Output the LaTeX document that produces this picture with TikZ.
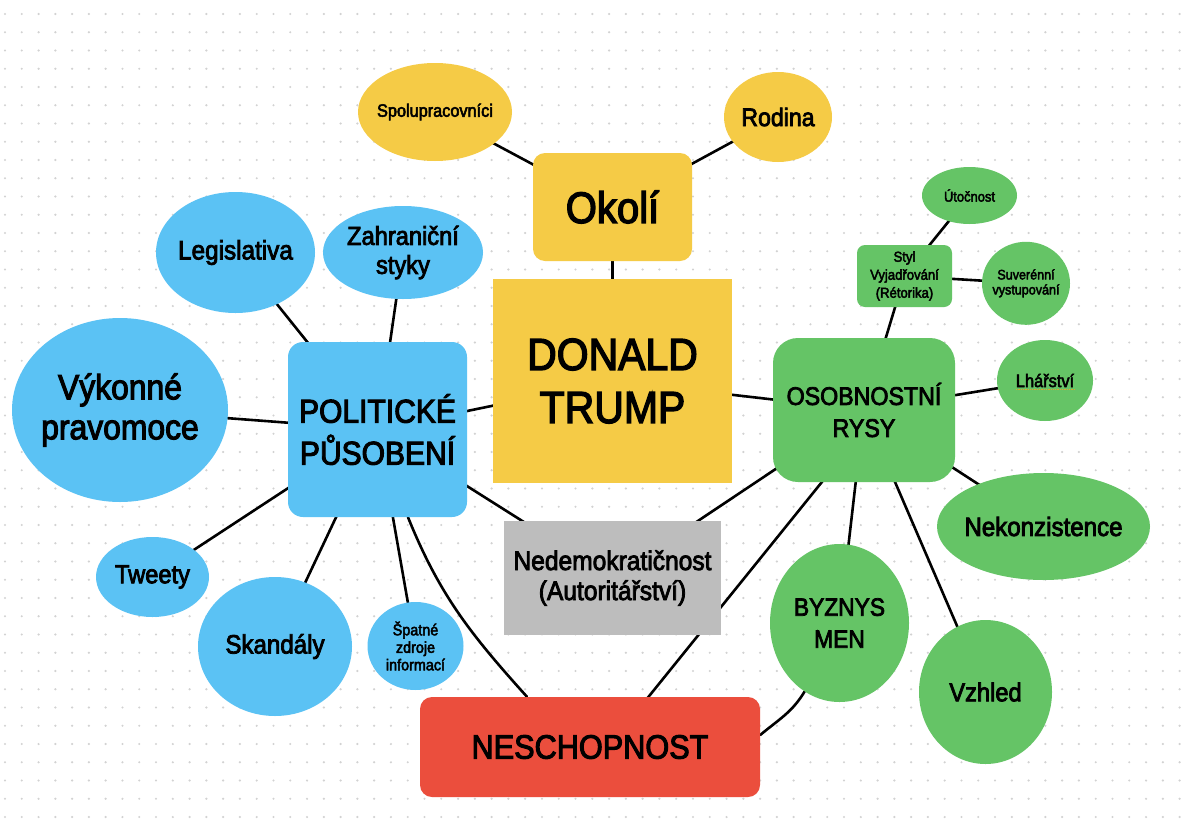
\documentclass[tikz,border=0pt]{standalone}
\usepackage{fontspec}
\setmainfont{Liberation Sans}[FakeStretch=0.91,FakeBold=3]
\usetikzlibrary{shapes.geometric}
\usetikzlibrary{backgrounds,calc}

\definecolor{zluta}{HTML}{F5CB46}
\definecolor{modra}{HTML}{5BC2F4}
\definecolor{zelena}{HTML}{65C466}
\definecolor{cervena}{HTML}{EB4E3D}
\definecolor{seda}{HTML}{BDBDBD}
\definecolor{tecka}{HTML}{D2D2D2}
\definecolor{podtrh}{HTML}{D9A62E}

\newcommand{\fs}[2]{\fontsize{#1}{#2}\selectfont}

\begin{document}
\begin{tikzpicture}[x=1pt, y=-1pt,
	box/.style={rectangle, inner sep=0pt, align=center},
	bubble/.style={ellipse, inner sep=0pt},
	txt/.style={inner sep=0pt, align=center},
	link/.style={line width=2.6pt, line cap=round}]
	
	\useasboundingbox (0,0) rectangle (1188,830);
	
	% dotted paper
	\begin{scope}[on background layer]
		\fill[white] (0,0) rectangle (1188,830);
		\foreach \i in {0,...,70}
			\foreach \j in {0,...,44}
				\fill[tecka] (5+16.78*\i, 14+18.25*\j) circle (1.2pt);
	\end{scope}
	
	% middle
	\node[box, fill=zluta, minimum width=239pt, minimum height=204pt, font=\fs{45}{53}] (trump) at (612.5,381) {DONALD\\TRUMP};
	\node[box, fill=zluta, rounded corners=12pt, minimum width=159pt, minimum height=108pt, font=\fs{44}{50}] (okoli) at (612.5,207) {Okolí};
	\node[bubble, fill=zluta, minimum width=154pt, minimum height=98pt, label={[txt, name=spolu-t, font=\fs{17.9}{20}]center:Spolupracovníci}] (spolu) at (435,112) {};
	\node[bubble, fill=zluta, minimum width=108pt, minimum height=90pt, label={[txt, name=rodina-t, font=\fs{25.4}{28}]center:Rodina}] (rodina) at (778,117) {};
	
	% politics
	\node[box, fill=modra, rounded corners=15pt, minimum width=179pt, minimum height=175pt, font=\fs{33}{42}] (polit) at (377.5,429.5) {POLITICKÉ\\PŮSOBENÍ};
	\node[bubble, fill=modra, minimum width=159pt, minimum height=121pt, label={[txt, name=legis-t, font=\fs{26.7}{30}]center:Legislativa}] (legis) at (235.5,252.5) {};
	\node[bubble, fill=modra, minimum width=160pt, minimum height=93pt, label={[txt, name=zahr-t, font=\fs{26}{29}]center:Zahraniční\\styky}] (zahr) at (403,252.5) {};
	\node[bubble, fill=modra, minimum width=216pt, minimum height=184pt, label={[txt, name=vykon-t, font=\fs{35}{40}]center:Výkonné\\pravomoce}] (vykon) at (120,410) {};
	\node[bubble, fill=modra, minimum width=113pt, minimum height=80pt, label={[txt, name=tweety-t, font=\fs{26}{29}]center:Tweety}] (tweety) at (152.5,577) {};
	\node[bubble, fill=modra, minimum width=154pt, minimum height=139pt, label={[txt, name=skand-t, font=\fs{26.5}{29}]center:Skandály}] (skand) at (275,646.5) {};
	\node[bubble, fill=modra, minimum width=96pt, minimum height=88pt, label={[txt, name=spatne-t, font=\fs{15.8}{17.5}]center:Špatné\\zdroje\\informací}] (spatne) at (415.5,646) {};
	
	% personality
	\node[box, fill=zelena, rounded corners=25pt, minimum width=182pt, minimum height=144pt, font=\fs{25.5}{32}] (osob) at (864,410) {OSOBNOSTNÍ\\RYSY};
	\node[box, fill=zelena, rounded corners=8pt, minimum width=95pt, minimum height=62pt, font=\fs{14.4}{18}] (styl) at (904.5,276) {Styl\\Vyjadřování\\(Rétorika)};
	\node[bubble, fill=zelena, minimum width=95pt, minimum height=57pt, label={[txt, name=utoc-t, font=\fs{14.2}{16}]center:Útočnost}] (utoc) at (969.5,195.5) {};
	\node[bubble, fill=zelena, minimum width=88pt, minimum height=83pt, label={[txt, name=suver-t, font=\fs{13.8}{15}]center:Suverénní\\vystupování}] (suver) at (1026,283.3) {};
	\node[bubble, fill=zelena, minimum width=96pt, minimum height=81pt, label={[txt, name=lhar-t, font=\fs{18}{20}]center:Lhářství}] (lhar) at (1045,380.5) {};
	\node[bubble, fill=zelena, minimum width=213pt, minimum height=107pt, label={[txt, name=nekonz-t, font=\fs{26.5}{29}]center:Nekonzistence}] (nekonz) at (1043.5,526.5) {};
	\node[bubble, fill=zelena, minimum width=139pt, minimum height=158pt, label={[txt, name=byznys-t, font=\fs{25}{32}]center:BYZNYS\\MEN}] (byznys) at (839.5,623) {};
	\node[bubble, fill=zelena, minimum width=133pt, minimum height=144pt, label={[txt, name=vzhled-t, font=\fs{26}{29}]center:Vzhled}] (vzhled) at (985.5,692) {};
	
	% bottom
	\node[box, fill=seda, minimum width=217pt, minimum height=114pt, font=\fs{27}{30}] (nedem) at (612.5,578) {Nedemokratičnost\\(Autoritářství)};
	\node[box, fill=cervena, rounded corners=12pt, minimum width=340pt, minimum height=100pt, font=\fs{33.7}{38}] (nesch) at (590,747) {NESCHOPNOST};
	
	% squiggle under Lhářství
	\draw[podtrh, densely dotted, line width=1.3pt] ($(lhar.center)+(-29,9)$) -- ($(lhar.center)+(29,9)$);
	
	% connectors
	\begin{scope}[on background layer]
		\draw[link] (okoli.center) -- (spolu.center);
		\draw[link] (okoli.center) -- (rodina.center);
		\draw[link] (okoli.center) -- (trump.center);
		\draw[link] (trump.center) -- (polit.center);
		\draw[link] (trump.center) -- (osob.center);
		
		\draw[link] (polit.center) -- (legis.center);
		\draw[link] (polit.center) -- (zahr.center);
		\draw[link] (polit.center) -- (vykon.center);
		\draw[link] (polit.center) -- (tweety.center);
		\draw[link] (polit.center) -- (skand.center);
		\draw[link] (polit.center) -- (spatne.center);
		\draw[link] (polit.center) -- (nedem.center);
		\draw[link] ($(polit.south)+(30.5,0)$) to[out=-68, in=132] ($(nesch.north)+(-63,0)$);
		
		\draw[link] (osob.center) -- (styl.center);
		\draw[link] (styl.center) -- (utoc.center);
		\draw[link] (styl.center) -- (suver.center);
		\draw[link] (osob.center) -- (lhar.center);
		\draw[link] (osob.center) -- (nekonz.center);
		\draw[link] (osob.center) -- (byznys.center);
		\draw[link] (osob.center) -- (vzhled.center);
		\draw[link] (osob.center) -- (nedem.center);
		\draw[link] ($(osob.center)+(16,0)$) -- ($(nesch.center)+(18,0)$);
		\draw[link] (byznys.-117) to[out=-121, in=40] ($(nesch.east)+(0,-12)$);
	\end{scope}
	
\end{tikzpicture}
\end{document}
